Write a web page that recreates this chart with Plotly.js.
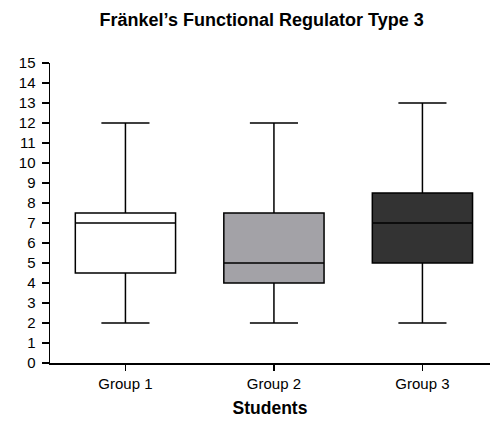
<!DOCTYPE html>
<html>
<head>
<meta charset="utf-8">
<script src="https://cdn.plot.ly/plotly-3.0.1.min.js"></script>
<style>html,body{margin:0;padding:0;background:#fff;}#chart{width:493px;height:424px;}</style>
</head>
<body>
<div id="chart"></div>
<script>
const categories = ["Group 1", "Group 2", "Group 3"];
const lowerWhisker = [2, 2, 2];
const q1Values = [4.5, 4, 5];
const medianValues = [7, 5, 7];
const q3Values = [7.5, 7.5, 8.5];
const upperWhisker = [12, 12, 13];
const boxColors = ["#ffffff", "#a3a2a7", "#333333"];
const yTicks = [0,1,2,3,4,5,6,7,8,9,10,11,12,13,14,15];

const traces = categories.map((c, i) => ({
  type: "box",
  x: [c],
  q1: [q1Values[i]],
  median: [medianValues[i]],
  q3: [q3Values[i]],
  lowerfence: [lowerWhisker[i]],
  upperfence: [upperWhisker[i]],
  fillcolor: boxColors[i],
  line: {color: "#000000", width: 1.5},
  width: 0.675,
  whiskerwidth: 0.48,
  boxpoints: false,
  hoverinfo: "skip",
  showlegend: false
}));

const font = "Liberation Sans, Arial, sans-serif";
const layout = {
  width: 493, height: 424,
  margin: {l: 50, r: 3, t: 63, b: 61},
  paper_bgcolor: "#fff", plot_bgcolor: "#fff",
  boxmode: "overlay",
  showlegend: false,
  title: {text: "<b>Fränkel’s Functional Regulator Type 3</b>", font: {family: font, size: 18, color: "#000"}, xref: "paper", x: 0.481, xanchor: "center", y: 1 - 20/424, yanchor: "middle"},
  xaxis: {
    type: "category",
    range: [-0.508, 2.455],
    showline: true, linecolor: "#000", linewidth: 1.5,
    ticks: "outside", ticklen: 6, tickwidth: 1.5, tickcolor: "#000",
    showgrid: false, zeroline: false,
    tickfont: {family: font, size: 15, color: "#000"},
    title: {text: "<b>Students</b>", font: {family: font, size: 17.5, color: "#000"}, standoff: 11}
  },
  yaxis: {
    range: [0, 15],
    tickvals: yTicks, ticktext: yTicks.map(String),
    showline: true, linecolor: "#000", linewidth: 1.5,
    ticks: "outside", ticklen: 7, tickwidth: 1.5, tickcolor: "#000",
    ticklabelstandoff: 3,
    showgrid: false, zeroline: false,
    tickfont: {family: font, size: 15, color: "#000"}
  }
};
Plotly.newPlot("chart", traces, layout, {staticPlot: true, displayModeBar: false});
</script>
</body>
</html>
